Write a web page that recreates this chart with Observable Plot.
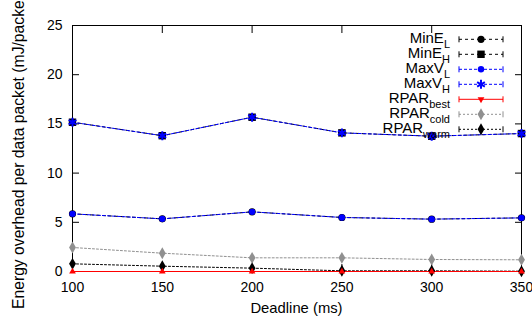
<!DOCTYPE html>
<html>
<head>
<meta charset="utf-8">
<script src="https://cdn.jsdelivr.net/npm/d3@7"></script>
<script src="https://cdn.jsdelivr.net/npm/@observablehq/plot@0.6"></script>
<style>
  html, body { margin: 0; padding: 0; background: #fff; overflow: hidden; }
  #chart svg { display: block; }
</style>
</head>
<body>
<div id="chart"></div>
<script>
const deadlines = [100, 150, 200, 250, 300, 350];
const minEL = [5.86, 5.35, 6.06, 5.49, 5.32, 5.45];
const minEH = [15.17, 13.8, 15.68, 14.09, 13.75, 14.02];
const maxVL = [5.86, 5.35, 6.06, 5.49, 5.32, 5.45];
const maxVH = [15.17, 13.8, 15.68, 14.09, 13.75, 14.02];
const rparBest = [0, 0, 0, 0, 0, 0];
const rparCold = [2.44, 1.86, 1.39, 1.39, 1.22, 1.19];
const rparWarm = [0.78, 0.54, 0.34, 0.07, 0.07, 0.03];
const xTicks = [100, 150, 200, 250, 300, 350];
const yTicks = [0, 5, 10, 15, 20, 25];
const xLabel = "Deadline (ms)";
const yLabel = "Energy overhead per data packet (mJ/packet)";

const series = [
  {name: "MinE", sub: "L", values: minEL, color: "#000000", symbol: "circle", dash: "3,3", r: 3.6, sw: 1},
  {name: "MinE", sub: "H", values: minEH, color: "#000000", symbol: "square", dash: "3,3", r: 4.2, sw: 1},
  {name: "MaxV", sub: "L", values: maxVL, color: "#0000ff", symbol: "circle", dash: "3,2", r: 3.2, sw: 1},
  {name: "MaxV", sub: "H", values: maxVH, color: "#0000ff", symbol: "asterisk", dash: "3,2", r: 4.2, sw: 2},
  {name: "RPAR", sub: "best", values: rparBest, color: "#ff0000", symbol: "triangle2", dash: null, r: 3.2, sw: 1},
  {name: "RPAR", sub: "cold", values: rparCold, color: "#909090", symbol: "diamond", dash: "2,2", r: 3.6, sw: 1},
  {name: "RPAR", sub: "warm", values: rparWarm, color: "#000000", symbol: "diamond", dash: "2,2", r: 3.6, sw: 1}
];

const rows = series.flatMap((s, si) => deadlines.map((d, i) => ({key: si, x: d, y: s.values[i]})));

const marks = [
  Plot.frame({stroke: "#000", strokeWidth: 1}),
  Plot.axisY({ticks: yTicks, tickSize: 0, tickPadding: 10, fontSize: 14, label: null}),
  Plot.axisY({ticks: yTicks, anchor: "left", tickSize: -7, text: null, label: null}),
  Plot.axisY({ticks: yTicks, anchor: "right", tickSize: -7, text: null, label: null}),
  Plot.axisX({ticks: xTicks, tickSize: 0, tickPadding: 11, fontSize: 14, label: null}),
  Plot.axisX({ticks: xTicks, anchor: "bottom", tickSize: -7, text: null, label: null}),
  Plot.axisX({ticks: xTicks, anchor: "top", tickSize: -7, text: null, label: null})
];
const order = [5, 6, 4, 0, 1, 2, 3];
for (const si of order) {
  const s = series[si];
  const data = rows.filter(d => d.key === si);
  marks.push(Plot.line(data, {x: "x", y: "y", stroke: s.color, strokeWidth: 1, strokeDasharray: s.dash || undefined}));
}
for (const si of order) {
  const s = series[si];
  const data = rows.filter(d => d.key === si);
  const isStroke = s.symbol === "asterisk";
  marks.push(Plot.dot(data, {x: "x", y: "y", r: s.r, symbol: () => s.symbol,
    fill: isStroke ? "none" : s.color, stroke: isStroke ? s.color : "none", strokeWidth: s.sw}));
}

const chart = Plot.plot({
  width: 532,
  height: 320,
  marginLeft: 72,
  marginRight: 11,
  marginTop: 25,
  marginBottom: 49,
  x: {domain: [100, 350]},
  y: {domain: [0, 25]},
  style: {fontFamily: "'Liberation Sans', Arial, sans-serif", fontSize: "14px", color: "#000", background: "#fff", overflow: "visible"},
  marks
});
document.getElementById("chart").appendChild(chart);

const svg = d3.select(chart);
const font = "'Liberation Sans', Arial, sans-serif";
svg.append("text").text(xLabel)
  .attr("x", 296.5).attr("y", 313).attr("text-anchor", "middle")
  .attr("font-family", font).attr("font-size", 14.8).attr("fill", "#000");
svg.append("text").text(yLabel)
  .attr("transform", "translate(23.5,309) rotate(-90)").attr("text-anchor", "start")
  .attr("font-family", font).attr("font-size", 15.7).attr("fill", "#000");

// legend (key)
const key = svg.append("g");
series.forEach((s, i) => {
  const cy = 39.3 + i * 15;
  const t = key.append("text").attr("x", 450).attr("y", cy + 4).attr("text-anchor", "end")
    .attr("font-family", font).attr("font-size", 15).attr("fill", "#000");
  t.append("tspan").text(s.name);
  t.append("tspan").text(s.sub).attr("font-size", 11).attr("dy", 4.3);
  const g = key.append("g").attr("stroke", s.color).attr("stroke-width", 1).attr("fill", "none");
  g.append("line").attr("x1", 459).attr("x2", 503).attr("y1", cy).attr("y2", cy)
    .attr("stroke-dasharray", s.dash || null);
  g.append("line").attr("x1", 459).attr("x2", 459).attr("y1", cy - 3).attr("y2", cy + 3);
  g.append("line").attr("x1", 503).attr("x2", 503).attr("y1", cy - 3).attr("y2", cy + 3);
  const sym = {circle: d3.symbolCircle, square: d3.symbolSquare, diamond: d3.symbolDiamond, triangle2: d3.symbolTriangle2, asterisk: d3.symbolAsterisk}[s.symbol];
  const size = Math.PI * s.r * s.r;
  const isStroke = s.symbol === "asterisk";
  const rot = s.symbol === "triangle2" ? " rotate(180)" : "";
  key.append("path").attr("d", d3.symbol(sym, size)())
    .attr("transform", `translate(481,${cy})${rot}`)
    .attr("fill", isStroke ? "none" : s.color).attr("stroke", isStroke ? s.color : "none")
    .attr("stroke-width", s.sw);
});
</script>
</body>
</html>
